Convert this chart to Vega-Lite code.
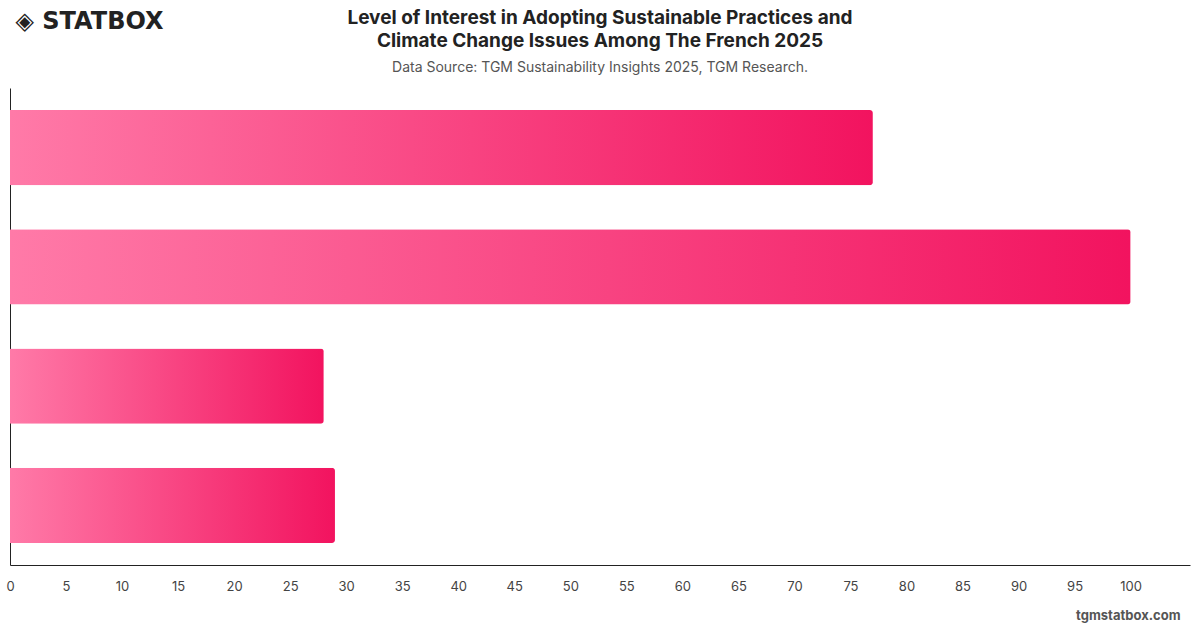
{
  "$schema": "https://vega.github.io/schema/vega-lite/v6.json",
  "width": 1180,
  "height": 477,
  "autosize": {"type": "none"},
  "padding": {"left": 10, "top": 88, "right": 10, "bottom": 63},
  "background": "#ffffff",
  "title": {
    "text": ["Level of Interest in Adopting Sustainable Practices and", "Climate Change Issues Among The French 2025"],
    "subtitle": "Data Source: TGM Sustainability Insights 2025, TGM Research.",
    "anchor": "middle",
    "frame": "group",
    "font": "Inter",
    "fontSize": 19,
    "fontWeight": "bold",
    "color": "#222222",
    "lineHeight": 23,
    "subtitleFont": "Inter",
    "subtitleFontSize": 14,
    "subtitleColor": "#555555",
    "subtitlePadding": 10,
    "offset": -66
  },
  "data": {
    "values": [
      {"category": "Very interested", "value": 77},
      {"category": "Somewhat interested", "value": 100},
      {"category": "Not very interested", "value": 28},
      {"category": "Not at all interested", "value": 29}
    ]
  },
  "mark": {
    "type": "bar",
    "cornerRadiusEnd": 3,
    "color": {
      "gradient": "linear",
      "x1": 0, "x2": 1, "y1": 0, "y2": 0,
      "stops": [
        {"offset": 0, "color": "#ff7aa8"},
        {"offset": 1, "color": "#f2135f"}
      ]
    }
  },
  "encoding": {
    "y": {
      "field": "category",
      "type": "nominal",
      "sort": null,
      "scale": {"paddingInner": 0.37, "paddingOuter": 0.185},
      "axis": {
        "labels": false,
        "ticks": false,
        "domainColor": "#222222",
        "domainWidth": 1,
        "title": "◈ STATBOX",
        "titleAngle": 0,
        "titleX": 5,
        "titleY": -67,
        "titleAlign": "left",
        "titleBaseline": "middle",
        "titleFont": "DejaVu Sans",
        "titleFontSize": 24,
        "titleFontWeight": "bold",
        "titleColor": "#222222"
      }
    },
    "x": {
      "field": "value",
      "type": "quantitative",
      "scale": {"domain": [0, 105.3], "nice": false, "zero": true},
      "axis": {
        "values": [0, 5, 10, 15, 20, 25, 30, 35, 40, 45, 50, 55, 60, 65, 70, 75, 80, 85, 90, 95, 100],
        "grid": false,
        "ticks": false,
        "domainColor": "#222222",
        "labelFont": "Inter",
        "labelFontSize": 13,
        "labelColor": "#444444",
        "labelPadding": 15,
        "labelFlush": false,
        "title": "tgmstatbox.com",
        "titleX": 1170,
        "titleY": 50,
        "titleAlign": "right",
        "titleBaseline": "middle",
        "titleFont": "Inter",
        "titleFontSize": 13,
        "titleFontWeight": "bold",
        "titleColor": "#555555"
      }
    }
  },
  "config": {"view": {"stroke": null}}
}
